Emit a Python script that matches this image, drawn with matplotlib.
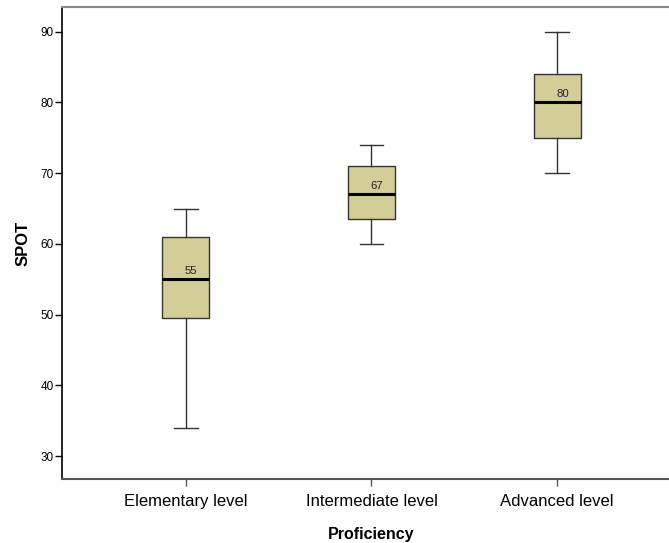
import matplotlib
matplotlib.use("Agg")
import matplotlib.pyplot as plt

# box statistics
groups = ["Elementary level", "Intermediate level", "Advanced level"]
whisker_low = [34, 60, 70]
q1 = [49.5, 63.5, 75]
median = [55, 67, 80]
q3 = [61, 71, 84]
whisker_high = [65, 74, 90]

plt.rcParams["font.family"] = ["Liberation Sans", "DejaVu Sans"]

fig = plt.figure(figsize=(6.69, 5.43), dpi=100)
ax = fig.add_axes([62 / 669, 1 - 479 / 543, 619 / 669, 472 / 543])

stats = [
    {"label": g, "whislo": lo, "q1": a, "med": m, "q3": b, "whishi": hi}
    for g, lo, a, m, b, hi in zip(groups, whisker_low, q1, median, q3, whisker_high)
]
positions = list(range(1, len(groups) + 1))
ax.bxp(stats, positions=positions, widths=0.253, showfliers=False,
       patch_artist=True, capwidths=0.125,
       boxprops=dict(facecolor="#d3ce97", edgecolor="#333333", linewidth=1),
       medianprops=dict(color="black", linewidth=2.2),
       whiskerprops=dict(color="#333333", linewidth=1),
       capprops=dict(color="#333333", linewidth=1))

for p, m in zip(positions, median):
    ax.text(p - 0.005, m + 0.5, f"{m:g}", ha="left", va="bottom",
            fontsize=8.2, color="#222222")

ax.set_xlim(0.332, 3.668)
ax.set_ylim(26.75, 93.5)
ax.set_yticks([30, 40, 50, 60, 70, 80, 90])
ax.tick_params(axis="y", direction="out", length=5, width=1, labelsize=8.5,
               color="black", pad=1)
ax.tick_params(axis="x", direction="out", length=5, width=1, labelsize=12,
               color="#555555", pad=6)

ax.spines["left"].set_color("black")
ax.spines["left"].set_linewidth(1.2)
ax.spines["bottom"].set_color("#555555")
ax.spines["bottom"].set_linewidth(1.5)
ax.spines["top"].set_color("#888888")
ax.spines["top"].set_linewidth(1.5)
ax.spines["right"].set_visible(False)

ax.set_ylabel("SPOT", fontsize=12, fontweight="bold", labelpad=7)
ax.set_xlabel("Proficiency", fontsize=11.5, fontweight="bold", labelpad=13)

fig.savefig("out.png", dpi=100)
